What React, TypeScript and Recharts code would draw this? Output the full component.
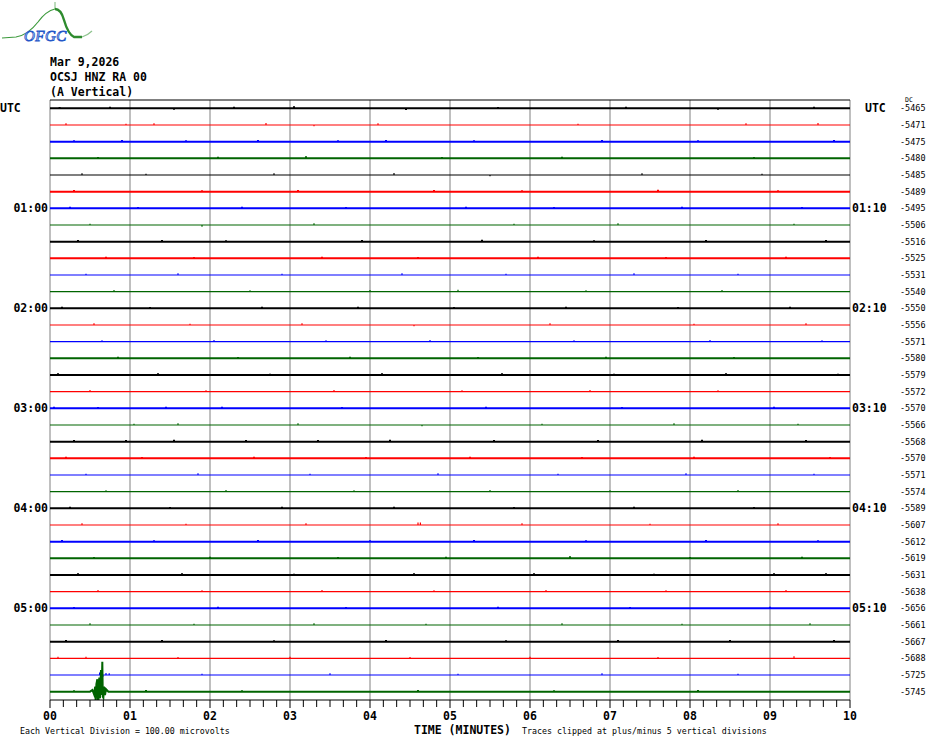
import { LineChart, Line, XAxis, YAxis, ReferenceLine } from 'recharts';

// 36 traces of 10 minutes each, top to bottom
const traceColors = ['#000000', '#ff0000', '#0000ff', '#006400'];

const dcValues = [
  -5465, -5471, -5475, -5480, -5485, -5489, -5495, -5506, -5516, -5525, -5531, -5540,
  -5550, -5556, -5571, -5580, -5579, -5572, -5570, -5566, -5568, -5570, -5571, -5574,
  -5589, -5607, -5612, -5619, -5631, -5638, -5656, -5661, -5667, -5688, -5725, -5745,
];

const leftHourLabels: Record<number, string> = { 0: 'UTC', 6: '01:00', 12: '02:00', 18: '03:00', 24: '04:00', 30: '05:00' };
const rightHourLabels: Record<number, string> = { 0: 'UTC', 6: '01:10', 12: '02:10', 18: '03:10', 24: '04:10', 30: '05:10' };

const minuteLabels = ['00', '01', '02', '03', '04', '05', '06', '07', '08', '09', '10'];

// small spikes per trace: [minute, amplitude in trace spacings]
const traceNoise: [number, number][][] = [
  [[0.12, 0.08], [0.75, 0.1], [1.55, -0.08], [2.3, 0.1], [3.05, 0.12], [4.45, -0.1], [5.6, 0.08], [7.2, 0.1], [8.35, -0.08], [9.55, 0.1]],
  [[0.2, 0.1], [0.95, 0.08], [1.3, 0.1], [2.7, 0.12], [3.3, -0.08], [4.1, 0.1], [6.6, 0.08], [8.7, 0.1], [9.6, 0.12]],
  [[0.3, 0.08], [0.9, 0.1], [1.7, 0.08], [2.6, 0.1], [3.6, 0.08], [4.2, 0.1], [5.3, 0.08], [6.9, 0.1], [8.1, 0.08], [9.8, 0.1]],
  [[0.6, 0.08], [2.1, 0.1], [3.2, 0.12], [4.9, 0.08], [6.4, 0.1], [8.8, 0.08]],
  [[0.4, 0.1], [1.2, 0.08], [2.8, 0.1], [4.3, 0.12], [5.5, -0.08], [7.4, 0.1], [8.9, 0.08]],
  [[0.3, 0.1], [1.9, 0.08], [3.1, 0.1], [4.8, 0.1], [5.9, 0.08], [7.6, 0.12], [9.1, 0.08]],
  [[0.25, 0.1], [1.1, 0.08], [2.4, 0.1], [3.7, 0.08], [5.2, 0.1], [6.3, 0.08], [7.9, 0.1], [9.4, 0.08]],
  [[0.5, 0.08], [1.9, -0.1], [3.3, 0.1], [5.8, 0.08], [7.1, 0.1], [9.3, 0.08]],
  [[0.35, 0.1], [1.4, 0.1], [2.2, 0.08], [3.9, 0.1], [5.4, 0.12], [6.8, 0.08], [8.2, 0.1], [9.7, 0.1]],
  [[0.7, 0.1], [1.8, 0.08], [3.4, 0.1], [4.6, 0.08], [6.1, 0.1], [7.7, 0.08], [9.2, 0.1]],
  [[0.45, 0.08], [1.6, 0.1], [2.9, 0.08], [4.4, 0.1], [5.7, 0.08], [7.3, 0.1], [8.6, 0.08]],
  [[0.8, 0.1], [2.5, 0.08], [4.0, 0.1], [5.1, 0.12], [6.7, 0.08], [8.4, 0.1]],
  [[0.15, 0.1], [1.25, 0.08], [2.65, 0.1], [3.85, 0.1], [5.05, 0.08], [6.45, 0.1], [7.85, 0.08], [9.25, 0.1]],
  [[0.55, 0.1], [1.75, 0.08], [3.15, 0.1], [4.55, -0.08], [6.25, 0.1], [8.05, 0.08], [9.45, 0.1]],
  [[0.65, 0.08], [2.05, 0.1], [3.45, 0.08], [4.75, 0.1], [6.55, 0.08], [8.25, 0.1], [9.65, 0.08]],
  [[0.85, 0.1], [2.35, 0.08], [3.75, 0.1], [5.35, 0.08], [6.95, 0.1], [8.55, 0.08]],
  [[0.1, 0.1], [1.35, 0.1], [2.75, 0.08], [4.15, 0.1], [5.65, 0.1], [7.05, 0.08], [8.45, 0.1], [9.85, 0.08]],
  [[0.5, 0.1], [1.95, 0.08], [3.55, 0.1], [5.15, 0.08], [6.75, 0.1], [8.35, 0.08]],
  [[0.05, 0.1], [0.6, 0.08], [1.45, 0.1], [2.15, 0.1], [3.65, 0.08], [5.45, 0.1], [7.15, 0.08], [9.05, 0.1]],
  [[1.05, 0.08], [1.6, 0.1], [3.1, 0.1], [4.65, -0.08], [6.15, 0.08], [7.8, 0.1], [9.35, 0.08]],
  [[0.3, 0.1], [0.95, 0.1], [1.55, 0.12], [2.45, 0.1], [3.35, 0.1], [4.25, 0.12], [5.55, 0.1], [6.85, 0.1], [8.15, 0.12], [9.45, 0.1]],
  [[0.2, 0.1], [1.15, 0.08], [2.55, 0.1], [3.95, 0.08], [5.25, 0.1], [6.65, 0.08], [8.05, 0.1], [9.75, 0.08]],
  [[0.45, 0.08], [1.85, 0.1], [3.25, 0.08], [4.85, 0.1], [6.35, 0.08], [7.95, 0.1], [9.55, 0.08]],
  [[0.7, 0.08], [2.2, 0.1], [3.8, 0.08], [5.5, 0.1], [7.0, 0.08], [8.6, 0.1]],
  [[0.25, 0.1], [1.5, 0.08], [2.9, 0.1], [4.3, 0.1], [5.8, 0.08], [7.3, 0.1], [8.8, 0.08]],
  [[0.4, 0.1], [1.7, 0.08], [3.2, 0.1], [4.6, 0.15], [4.63, 0.15], [5.9, 0.1], [7.5, 0.08], [9.1, 0.1]],
  [[0.15, 0.1], [1.3, 0.08], [2.6, 0.1], [4.0, 0.08], [5.3, 0.1], [6.7, 0.08], [8.2, 0.1], [9.6, 0.08]],
  [[0.55, 0.08], [2.0, 0.1], [3.6, 0.08], [4.95, 0.1], [6.5, 0.12], [8.0, 0.08], [9.4, 0.1]],
  [[0.35, 0.1], [1.65, 0.1], [3.05, 0.08], [4.55, 0.1], [6.05, 0.1], [7.55, 0.08], [9.05, 0.1], [9.7, 0.1]],
  [[0.6, 0.1], [1.9, 0.08], [3.4, 0.1], [4.8, 0.08], [6.2, 0.1], [7.7, 0.08], [9.2, 0.1]],
  [[0.3, 0.08], [2.1, 0.1], [3.7, 0.08], [5.6, 0.1], [7.25, 0.08], [9.0, 0.1]],
  [[0.5, 0.1], [1.8, 0.08], [3.3, 0.1], [4.7, 0.08], [6.4, 0.1], [7.9, 0.08], [9.5, 0.1]],
  [[0.2, 0.1], [1.4, 0.1], [2.8, 0.08], [4.2, 0.1], [5.7, 0.08], [7.1, 0.1], [8.5, 0.1], [9.8, 0.1]],
  [[0.1, 0.1], [0.45, 0.1], [1.6, 0.08], [3.0, 0.1], [4.5, 0.08], [6.0, 0.1], [7.6, 0.08], [9.3, 0.12]],
  [[0.62, 0.15], [0.66, -0.12], [0.7, 0.12], [0.74, 0.1], [1.9, 0.08], [3.5, 0.1], [5.1, 0.08], [6.9, 0.1], [8.6, 0.08]],
  [[0.3, 0.08], [1.2, 0.1], [2.4, 0.08], [4.6, 0.1], [6.3, 0.08], [8.1, 0.1]],
];

// event recorded on the last trace (minute, amplitude in trace spacings)
const eventSamples: [number, number][] = [
  [0.5, 0], [0.53, 0.1], [0.55, -0.15], [0.565, 0.3], [0.571, -0.6], [0.58, 0.45],
  [0.592, 0.75], [0.598, -0.3], [0.604, -1.0], [0.61, 0.5], [0.617, 0.85], [0.625, -0.4],
  [0.632, 0.6], [0.6375, 1.3], [0.645, -0.2], [0.654, 1.8], [0.66, -0.3], [0.667, -0.36],
  [0.675, 0.3], [0.6875, -0.2], [0.7, 0.15], [0.73, 0],
];

// style: heavier traces
const boldRows = [0, 2, 3, 5, 6, 8, 9, 12, 15, 16, 18, 20, 21, 24, 26, 27, 28, 30, 32, 35];

const ROWS = dcValues.length;
const rowValue = (row: number) => ROWS - row - 0.5;
const rowTicks = dcValues.map((_, i) => rowValue(i));
const minuteTicks = minuteLabels.map((_, i) => i);
const secondTicks = Array.from({ length: 61 }, (_, i) => i / 6);

const buildTrace = (row: number) => {
  const base = rowValue(row);
  const pts: { x: number; y: number }[] = [{ x: 0, y: base }];
  const merged = [
    ...traceNoise[row].map(([t, a]) => ({ t, a, spike: true })),
    ...(row === ROWS - 1 ? eventSamples : []).map(([t, a]) => ({ t, a, spike: false })),
  ].sort((a, b) => a.t - b.t);
  merged.forEach(({ t, a, spike }) => {
    if (spike) {
      pts.push({ x: t, y: base }, { x: t, y: base + a }, { x: t, y: base });
    } else {
      pts.push({ x: t, y: base + a });
    }
  });
  pts.push({ x: 10, y: base });
  return pts;
};

const traces = dcValues.map((_, i) => buildTrace(i));

const mono = '"DejaVu Sans Mono", "Liberation Mono", monospace';
const rowOf = (v: number) => Math.round(ROWS - 0.5 - v);

const LeftTick = (props: any) => {
  const { x, y, payload } = props;
  const label = leftHourLabels[rowOf(payload.value)];
  if (!label) return <g />;
  const isUtc = label === 'UTC';
  return (
    <text x={isUtc ? x - 50 : x - 2} y={y} dy="0.36em" textAnchor={isUtc ? 'start' : 'end'}
      fontFamily={mono} fontWeight="bold" fontSize={11.5} fill="#000">{label}</text>
  );
};

const RightTick = (props: any) => {
  const { x, y, payload } = props;
  const label = rightHourLabels[rowOf(payload.value)];
  if (!label) return <g />;
  const isUtc = label === 'UTC';
  return (
    <text x={isUtc ? x + 15 : x + 2} y={y} dy="0.36em" textAnchor="start"
      fontFamily={mono} fontWeight="bold" fontSize={11.5} fill="#000">{label}</text>
  );
};

const DcTick = (props: any) => {
  const { x, y, payload } = props;
  const row = rowOf(payload.value);
  return (
    <g>
      {row === 0 && (
        <text x={x + 5} y={y - 6} fontFamily={mono} fontSize={6.5} fill="#000">DC</text>
      )}
      <text x={x} y={y} dy="0.36em" textAnchor="start" fontFamily={mono} fontSize={8.5} fill="#000">
        {dcValues[row]}
      </text>
    </g>
  );
};

const TimeTick = (props: any) => {
  const { x, y, payload } = props;
  const v = payload.value;
  const idx = Math.round(v);
  const major = Math.abs(v - idx) < 1e-6;
  return (
    <g>
      <line x1={x} x2={x} y1={y} y2={y + (major ? 8 : 7)} stroke="#000" />
      {major && (
        <text x={x} y={y + 20} textAnchor="middle" fontFamily={mono} fontWeight="bold" fontSize={11.5} fill="#000">
          {minuteLabels[idx]}
        </text>
      )}
    </g>
  );
};

export default function App() {
  return (
    <div style={{ position: 'relative', width: 930, height: 744, background: '#fff' }}>
      <style>{'body { margin: 0; }'}</style>
      <LineChart width={930} height={744} margin={{ top: 100, right: 0, bottom: 0, left: 0 }}>
        <XAxis
          dataKey="x"
          type="number"
          domain={[0, 10]}
          ticks={secondTicks}
          interval={0}
          height={44}
          tick={<TimeTick />}
          tickLine={false}
          tickSize={0}
          tickMargin={0}
          axisLine={{ stroke: '#000' }}
          allowDataOverflow
        />
        <YAxis yAxisId="l" orientation="left" width={50} type="number" domain={[0, ROWS]} ticks={rowTicks}
          interval={0} allowDataOverflow axisLine={false} tickLine={false} tickSize={0} tickMargin={0} tick={<LeftTick />} />
        <YAxis yAxisId="hour" orientation="right" width={50} type="number" domain={[0, ROWS]} ticks={rowTicks}
          interval={0} allowDataOverflow axisLine={false} tickLine={false} tickSize={0} tickMargin={0} tick={<RightTick />} />
        <YAxis yAxisId="zdc" orientation="right" width={30} type="number" domain={[0, ROWS]} ticks={rowTicks}
          interval={0} allowDataOverflow axisLine={false} tickLine={false} tickSize={0} tickMargin={0} tick={<DcTick />} />
        {minuteTicks.map((m) => (
          <ReferenceLine key={`g${m}`} yAxisId="l" x={m} stroke="#808080" />
        ))}
        <ReferenceLine yAxisId="l" y={ROWS} stroke="#000" />
        {traces.map((pts, i) => (
          <Line
            key={i}
            yAxisId="l"
            data={pts}
            dataKey="y"
            type="linear"
            stroke={traceColors[i % 4]}
            strokeWidth={boldRows.includes(i) ? 2 : 1.2}
            dot={false}
            activeDot={false}
            isAnimationActive={false}
          />
        ))}
      </LineChart>

      <svg width={930} height={744} style={{ position: 'absolute', left: 0, top: 0, pointerEvents: 'none' }}>
        {/* logo */}
        <path d="M2 38 L16 37 Q28 35 38 22 Q46 11 55 9" fill="none" stroke="#3c9a3c" strokeWidth={1.2} />
        <line x1={55} y1={2} x2={55} y2={10} stroke="#7ab87a" strokeWidth={1} />
        <path d="M55 9 Q61 9 64 20 Q68 34 74 37 L82 37" fill="none" stroke="#2e8b2e" strokeWidth={2.4} />
        <path d="M82 37 Q88 35 92 31" fill="none" stroke="#8fc48f" strokeWidth={1.2} />
        <text x={24} y={41} fontFamily='"Liberation Serif", serif' fontStyle="italic" fontSize={15}
          fill="#ffffff" stroke="#2457c8" strokeWidth={0.9} letterSpacing={0.5}>OFGC</text>

        {/* header */}
        <text x={50} y={66} fontFamily={mono} fontWeight="bold" fontSize={11.5} fill="#000">Mar 9,2026</text>
        <text x={50} y={81} fontFamily={mono} fontWeight="bold" fontSize={11.5} fill="#000">OCSJ HNZ RA 00</text>
        <text x={50} y={96} fontFamily={mono} fontWeight="bold" fontSize={11.5} fill="#000">(A Vertical)</text>

        {/* footer */}
        <text x={20} y={734} fontFamily={mono} fontSize={8.3} fill="#000">Each Vertical Division =  100.00 microvolts</text>
        <text x={414} y={734} fontFamily={mono} fontWeight="bold" fontSize={11.5} fill="#000">TIME (MINUTES)</text>
        <text x={522} y={734} fontFamily={mono} fontSize={8.3} fill="#000">Traces clipped at plus/minus 5 vertical divisions</text>
      </svg>
    </div>
  );
}
